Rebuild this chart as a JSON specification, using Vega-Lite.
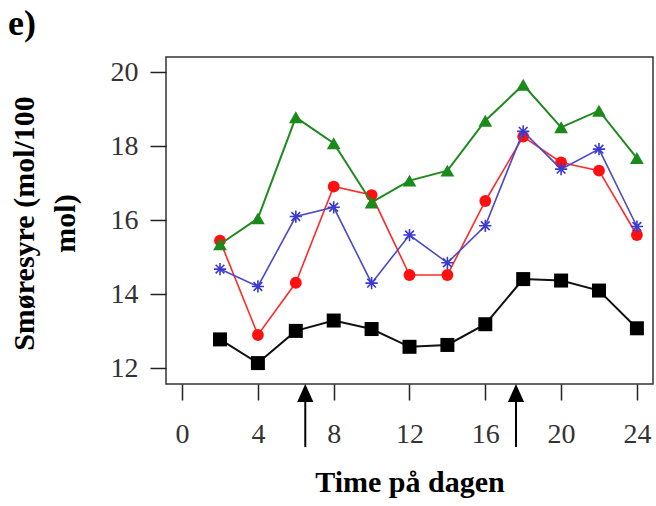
{
  "$schema": "https://vega.github.io/schema/vega-lite/v6.json",
  "width": 487,
  "height": 327,
  "autosize": "none",
  "padding": {"left": 166, "top": 57, "right": 3, "bottom": 122},
  "background": "white",
  "title": {"text": "e)", "anchor": "start", "frame": "group", "dx": -158, "dy": 34, "offset": 20, "baseline": "alphabetic", "font": "Liberation Serif", "fontSize": 36, "fontWeight": "bold", "color": "black"},
  "config": {
    "view": {"stroke": "#333333", "strokeWidth": 1.5},
    "axis": {"domain": false, "grid": false, "tickColor": "#222222", "tickWidth": 1.5, "labelFont": "Liberation Serif", "labelFontSize": 28, "labelColor": "#333333", "titleFont": "Liberation Serif", "titleFontWeight": "bold", "titleColor": "black"}
  },
  "datasets": {
    "d": [
      {"t": 2, "v": 12.78, "s": "black"}, {"t": 4, "v": 12.14, "s": "black"}, {"t": 6, "v": 13.01, "s": "black"}, {"t": 8, "v": 13.29, "s": "black"}, {"t": 10, "v": 13.06, "s": "black"}, {"t": 12, "v": 12.58, "s": "black"}, {"t": 14, "v": 12.63, "s": "black"}, {"t": 16, "v": 13.19, "s": "black"}, {"t": 18, "v": 14.41, "s": "black"}, {"t": 20, "v": 14.37, "s": "black"}, {"t": 22, "v": 14.1, "s": "black"}, {"t": 24, "v": 13.08, "s": "black"},
      {"t": 2, "v": 15.45, "s": "red"}, {"t": 4, "v": 12.9, "s": "red"}, {"t": 6, "v": 14.31, "s": "red"}, {"t": 8, "v": 16.91, "s": "red"}, {"t": 10, "v": 16.68, "s": "red"}, {"t": 12, "v": 14.52, "s": "red"}, {"t": 14, "v": 14.52, "s": "red"}, {"t": 16, "v": 16.52, "s": "red"}, {"t": 18, "v": 18.26, "s": "red"}, {"t": 20, "v": 17.56, "s": "red"}, {"t": 22, "v": 17.34, "s": "red"}, {"t": 24, "v": 15.6, "s": "red"},
      {"t": 2, "v": 14.68, "s": "blue"}, {"t": 4, "v": 14.21, "s": "blue"}, {"t": 6, "v": 16.1, "s": "blue"}, {"t": 8, "v": 16.35, "s": "blue"}, {"t": 10, "v": 14.3, "s": "blue"}, {"t": 12, "v": 15.6, "s": "blue"}, {"t": 14, "v": 14.85, "s": "blue"}, {"t": 16, "v": 15.85, "s": "blue"}, {"t": 18, "v": 18.4, "s": "blue"}, {"t": 20, "v": 17.38, "s": "blue"}, {"t": 22, "v": 17.92, "s": "blue"}, {"t": 24, "v": 15.83, "s": "blue"},
      {"t": 2, "v": 15.35, "s": "green"}, {"t": 4, "v": 16.05, "s": "green"}, {"t": 6, "v": 18.78, "s": "green"}, {"t": 8, "v": 18.08, "s": "green"}, {"t": 10, "v": 16.48, "s": "green"}, {"t": 12, "v": 17.07, "s": "green"}, {"t": 14, "v": 17.34, "s": "green"}, {"t": 16, "v": 18.69, "s": "green"}, {"t": 18, "v": 19.66, "s": "green"}, {"t": 20, "v": 18.51, "s": "green"}, {"t": 22, "v": 18.96, "s": "green"}, {"t": 24, "v": 17.68, "s": "green"}
    ],
    "shafts": [{"t": 6.5, "v": 9.872, "v2": 11.3}, {"t": 17.62, "v": 9.872, "v2": 11.3}],
    "heads": [{"t": 6.5, "v": 11.33}, {"t": 17.62, "v": 11.33}]
  },
  "encoding": {
    "x": {"field": "t", "type": "quantitative", "scale": {"domain": [-0.85, 24.85], "nice": false, "zero": false},
      "axis": {"values": [0, 4, 8, 12, 16, 20, 24], "title": "Time på dagen", "tickSize": 16, "labelPadding": 20, "labelAngle": 0, "titleFontSize": 30, "titleY": 107, "titleBaseline": "alphabetic"}},
    "y": {"field": "v", "type": "quantitative", "scale": {"domain": [11.575, 20.41], "nice": false, "zero": false},
      "axis": {"values": [12, 14, 16, 18, 20], "title": ["Smøresyre (mol/100", "mol)"], "tickSize": 16, "labelPadding": 12, "titleFontSize": 30, "titleX": -157, "titleY": 166, "titleAngle": -90, "titleBaseline": "top", "titleAlign": "center", "titleLineHeight": 41}}
  },
  "layer": [
    {"data": {"name": "d"}, "transform": [{"filter": "datum.s === 'black'"}], "mark": {"type": "line", "color": "#111111", "strokeWidth": 2}, "encoding": {}},
    {"data": {"name": "d"}, "transform": [{"filter": "datum.s === 'black'"}], "mark": {"type": "point", "shape": "square", "filled": true, "color": "black", "size": 196, "opacity": 1}, "encoding": {}},
    {"data": {"name": "d"}, "transform": [{"filter": "datum.s === 'red'"}], "mark": {"type": "line", "color": "#ff2a2a", "strokeWidth": 1.6}, "encoding": {}},
    {"data": {"name": "d"}, "transform": [{"filter": "datum.s === 'red'"}], "mark": {"type": "point", "shape": "circle", "filled": true, "color": "#ff1010", "size": 140, "opacity": 1}, "encoding": {}},
    {"data": {"name": "d"}, "transform": [{"filter": "datum.s === 'blue'"}], "mark": {"type": "line", "color": "#4a4ac8", "strokeWidth": 1.6}, "encoding": {}},
    {"data": {"name": "d"}, "transform": [{"filter": "datum.s === 'blue'"}], "mark": {"type": "point", "shape": "M-1,0L1,0M0,-1L0,1M-0.71,-0.71L0.71,0.71M-0.71,0.71L0.71,-0.71", "filled": false, "color": "#3a3ad0", "strokeWidth": 1.6, "size": 150, "opacity": 1}, "encoding": {}},
    {"data": {"name": "d"}, "transform": [{"filter": "datum.s === 'green'"}], "mark": {"type": "line", "color": "#1f8a1f", "strokeWidth": 2}, "encoding": {}},
    {"data": {"name": "d"}, "transform": [{"filter": "datum.s === 'green'"}], "mark": {"type": "point", "shape": "triangle-up", "filled": true, "color": "#1a8a1a", "size": 190, "opacity": 1}, "encoding": {}},
    {"data": {"name": "shafts"}, "mark": {"type": "rule", "color": "black", "strokeWidth": 2, "clip": false}, "encoding": {"y2": {"field": "v2"}}},
    {"data": {"name": "heads"}, "mark": {"type": "point", "shape": "M0,-1L0.9,1L-0.9,1Z", "filled": true, "color": "black", "size": 324, "opacity": 1, "clip": false}, "encoding": {}}
  ]
}
